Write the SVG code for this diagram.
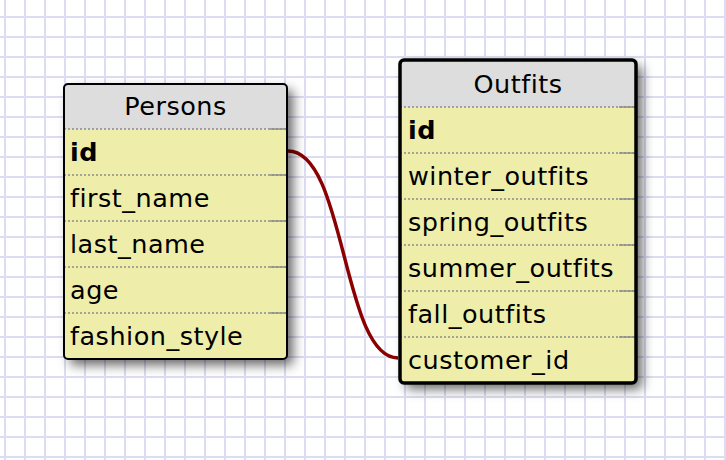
<svg xmlns="http://www.w3.org/2000/svg" width="726" height="460" viewBox="0 0 726 460">
<defs>
<pattern id="grid" x="0" y="0" width="20" height="20" patternUnits="userSpaceOnUse" patternTransform="translate(4,16)">
<rect width="20" height="20" fill="#ffffff"/>
<rect x="0" y="0" width="2" height="20" fill="#dcdcf2"/>
<rect x="0" y="0" width="20" height="2" fill="#dcdcf2"/>
</pattern>
<filter id="shadow" x="-20%" y="-20%" width="140%" height="140%">
<feDropShadow dx="6" dy="6" stdDeviation="6" flood-color="#000" flood-opacity="0.6"/>
</filter>
</defs>
<style>
.hdr{fill:#dddddd}
.frame{fill:none;stroke:#000;stroke-width:2}
.sel{stroke-width:3.5}
.sep{stroke:#8c8c8c;stroke-width:1.5;stroke-dasharray:2 2}
.tick{stroke:#8c8c8c;stroke-width:1.5}
text{font-family:"DejaVu Sans",Verdana,sans-serif;font-size:25.5px;letter-spacing:0.5px;fill:#000}
.title{text-anchor:middle}
.key{font-weight:bold}
.link{fill:none;stroke:#8b0000;stroke-width:3.5}
</style>
<rect width="726" height="460" fill="url(#grid)"/>

<g id="connectors">
<path class="link" d="M288,151 C346,151 342,358 398,358"/>
</g>

<g id="persons">
<rect x="64" y="84" width="223" height="275" rx="4" fill="#eeeeaa" filter="url(#shadow)"/>
<path class="hdr" d="M68,84 H283 a4,4 0 0 1 4,4 V129 H64 V88 a4,4 0 0 1 4,-4 Z"/>
<line class="sep" x1="64" y1="129" x2="287" y2="129"/><line class="tick" x1="270" y1="129" x2="287" y2="129"/>
<line class="sep" x1="64" y1="175" x2="287" y2="175"/><line class="tick" x1="270" y1="175" x2="287" y2="175"/>
<line class="sep" x1="64" y1="221" x2="287" y2="221"/><line class="tick" x1="270" y1="221" x2="287" y2="221"/>
<line class="sep" x1="64" y1="267" x2="287" y2="267"/><line class="tick" x1="270" y1="267" x2="287" y2="267"/>
<line class="sep" x1="64" y1="313" x2="287" y2="313"/><line class="tick" x1="270" y1="313" x2="287" y2="313"/>
<rect class="frame" x="64" y="84" width="223" height="275" rx="4"/>
<text class="title" x="175.5" y="115">Persons</text>
<text class="key" x="70" y="161">id</text>
<text x="70" y="207">first_name</text>
<text x="70" y="253">last_name</text>
<text x="70" y="299">age</text>
<text x="70" y="345">fashion_style</text>
</g>

<g id="outfits">
<rect x="400" y="60" width="236" height="323" rx="4" fill="#eeeeaa" filter="url(#shadow)"/>
<path class="hdr" d="M404,60 H632 a4,4 0 0 1 4,4 V107 H400 V64 a4,4 0 0 1 4,-4 Z"/>
<line class="sep" x1="400" y1="107" x2="636" y2="107"/><line class="tick" x1="619" y1="107" x2="636" y2="107"/>
<line class="sep" x1="400" y1="153" x2="636" y2="153"/><line class="tick" x1="619" y1="153" x2="636" y2="153"/>
<line class="sep" x1="400" y1="199" x2="636" y2="199"/><line class="tick" x1="619" y1="199" x2="636" y2="199"/>
<line class="sep" x1="400" y1="245" x2="636" y2="245"/><line class="tick" x1="619" y1="245" x2="636" y2="245"/>
<line class="sep" x1="400" y1="291" x2="636" y2="291"/><line class="tick" x1="619" y1="291" x2="636" y2="291"/>
<line class="sep" x1="400" y1="337" x2="636" y2="337"/><line class="tick" x1="619" y1="337" x2="636" y2="337"/>
<rect class="frame sel" x="400" y="60" width="236" height="323" rx="4"/>
<text class="title" x="518" y="93">Outfits</text>
<text class="key" x="408" y="139">id</text>
<text x="408" y="185">winter_outfits</text>
<text x="408" y="231">spring_outfits</text>
<text x="408" y="277">summer_outfits</text>
<text x="408" y="323">fall_outfits</text>
<text x="408" y="369">customer_id</text>
</g>
</svg>
